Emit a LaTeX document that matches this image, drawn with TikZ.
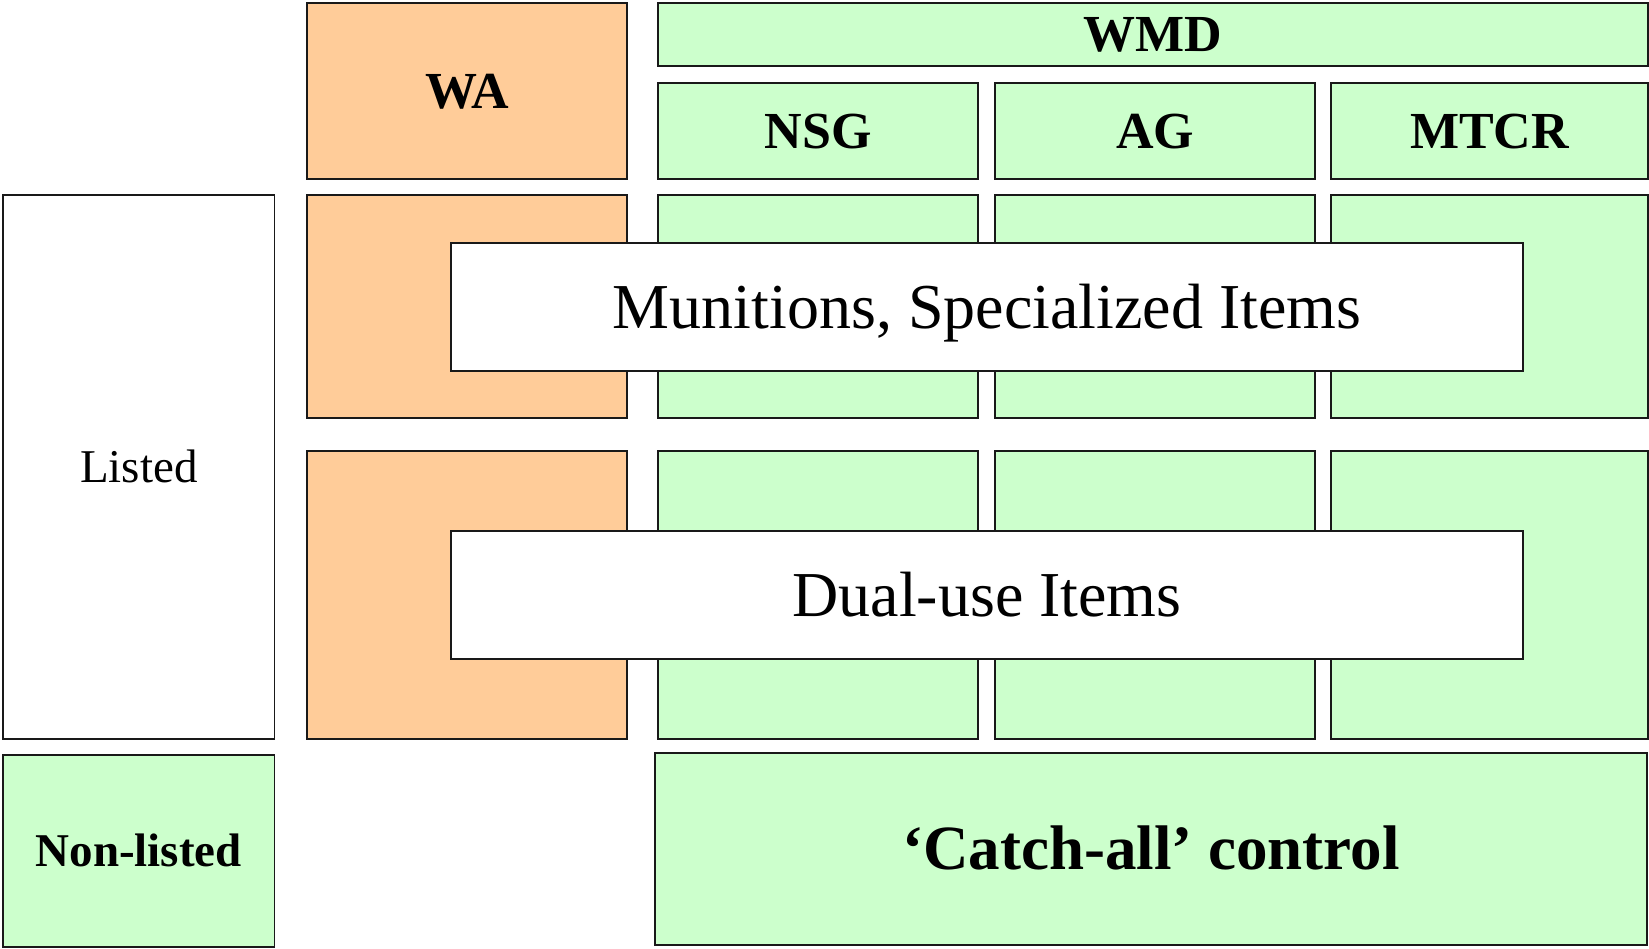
\documentclass[tikz,border=0pt]{standalone}
\usepackage{fontspec}
\setmainfont{Liberation Serif}
\definecolor{waorange}{HTML}{FFCC99}
\definecolor{wmdgreen}{HTML}{CCFFCC}
\tikzset{
  cell/.style={draw=black!90, line width=1.6pt, inner sep=0pt, outer sep=0pt,
    anchor=north west, align=center, text depth=0pt},
  wacell/.style={cell, fill=waorange},
  wmdcell/.style={cell, fill=wmdgreen},
  whitecell/.style={cell, fill=white},
  headfont/.style={font=\fontsize{52}{60}\selectfont\bfseries, text height=34.4pt},
  bigfont/.style={font=\fontsize{64}{72}\selectfont, text height=42.4pt},
  bigbold/.style={font=\fontsize{63}{72}\selectfont\bfseries, text height=41.7pt},
  sidefont/.style={font=\fontsize{47}{54}\selectfont, text height=31.1pt},
  sidebold/.style={font=\fontsize{47}{54}\selectfont\bfseries, text height=31.1pt},
}
\begin{document}
\begin{tikzpicture}[x=1pt,y=-1pt]
\useasboundingbox (0,0) rectangle (1649,949);
% header row
\node[wacell, headfont, minimum width=320pt, minimum height=176pt] (wa) at (307,3) {WA};
\node[wmdcell, headfont, minimum width=990pt, minimum height=63pt] (wmd) at (658,3) {WMD};
\node[wmdcell, headfont, minimum width=320pt, minimum height=96pt] (nsg) at (658,83) {NSG};
\node[wmdcell, headfont, minimum width=320pt, minimum height=96pt] (ag) at (995,83) {AG};
\node[wmdcell, headfont, minimum width=317pt, minimum height=96pt] (mtcr) at (1331,83) {MTCR};
% munitions row
\node[wacell, minimum width=320pt, minimum height=223pt] (wa2) at (307,195) {};
\node[wmdcell, minimum width=320pt, minimum height=223pt] (nsg2) at (658,195) {};
\node[wmdcell, minimum width=320pt, minimum height=223pt] (ag2) at (995,195) {};
\node[wmdcell, minimum width=317pt, minimum height=223pt] (mtcr2) at (1331,195) {};
% dual-use row
\node[wacell, minimum width=320pt, minimum height=288pt] (wa3) at (307,451) {};
\node[wmdcell, minimum width=320pt, minimum height=288pt] (nsg3) at (658,451) {};
\node[wmdcell, minimum width=320pt, minimum height=288pt] (ag3) at (995,451) {};
\node[wmdcell, minimum width=317pt, minimum height=288pt] (mtcr3) at (1331,451) {};
% side
\node[whitecell, sidefont, minimum width=271.5pt, minimum height=544pt] (listed) at (3,195) {Listed};
\node[wmdcell, sidebold, minimum width=271.5pt, minimum height=192pt] (nonlisted) at (3,755) {Non-listed};
% catch-all
\node[wmdcell, bigbold, minimum width=992pt, minimum height=192pt] (catch) at (655,753) {‘Catch-all’ control};
% overlays
\node[whitecell, bigfont, minimum width=1072pt, minimum height=128pt] (mun) at (451,243) {Munitions, Specialized Items};
\node[whitecell, bigfont, minimum width=1072pt, minimum height=128pt] (dual) at (451,531) {Dual-use Items};
\end{tikzpicture}
\end{document}
